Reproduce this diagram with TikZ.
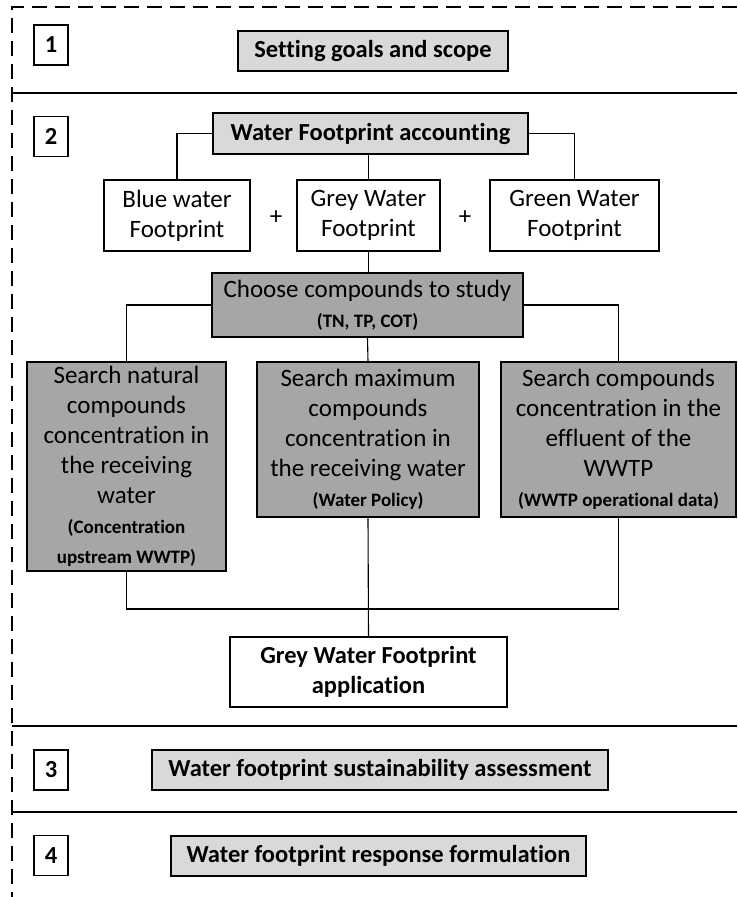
\documentclass[tikz,border=0pt]{standalone}
\usepackage{fontspec}
\setmainfont{Carlito}[Ligatures=NoCommon]
\usepackage{tikz}
\definecolor{lg}{RGB}{217, 217, 217}
\definecolor{dg}{RGB}{166, 166, 166}
\newcommand{\subnote}[1]{{\fontsize{19pt}{23pt}\selectfont\bfseries #1}}

\begin{document}
\begin{tikzpicture}[
box/.style={rectangle, draw=black, line width=1.2pt, inner sep=0pt, align=center, font=\fontsize{25pt}{30pt}\selectfont},
num/.style={box, minimum width=34pt, minimum height=40pt, font=\fontsize{24.5pt}{30pt}\selectfont\bfseries},
phase/.style={box, fill=lg, minimum height=40pt, font=\fontsize{24.5pt}{30pt}\selectfont\bfseries},
part/.style={box, fill=white, minimum height=71pt},
task/.style={box, fill=dg},
link/.style={line width=1.1pt, color=black}
]
\useasboundingbox (0pt, 0pt) rectangle (737pt, -897pt);
% frame and phase separators
\draw [line width=1.4pt, dash pattern=on 15pt off 8pt] (737pt, -7pt) -- (12pt, -7pt) -- (12pt, -897pt);
\draw [line width=1.4pt] (12pt, -93pt) -- (737pt, -93pt);
\draw [line width=1.4pt] (12pt, -726pt) -- (737pt, -726pt);
\draw [line width=1.4pt] (12pt, -812pt) -- (737pt, -812pt);
% phase 1
\node (n1) [num] at (51pt, -45pt) {1};
\node (goals) [phase, minimum width=270pt] at (373pt, -51pt) {Setting goals and scope};
% phase 2
\node (n2) [num] at (51pt, -136.5pt) {2};
\node (wfa) [phase, minimum width=315pt, minimum height=41pt] at (370.5pt, -133.5pt) {Water Footprint accounting};
\node (blue) [part, minimum width=146pt] at (177pt, -215.5pt) {Blue water\\Footprint};
\node (grey) [part, minimum width=143pt] at (368.5pt, -215.5pt) {Grey Water\\Footprint};
\node (green) [part, minimum width=169pt] at (574.5pt, -215.5pt) {Green Water\\Footprint};
\node (plus1) [font=\fontsize{25pt}{30pt}\selectfont] at (276pt, -218pt) {+};
\node (plus2) [font=\fontsize{25pt}{30pt}\selectfont] at (465pt, -218pt) {+};
\node (choose) [task, minimum width=311pt, minimum height=64pt] at (367.5pt, -305pt) {Choose compounds to study\\\subnote{(TN, TP, COT)}};
\node (natural) [task, minimum width=199pt, minimum height=209pt] at (126.5pt, -466.5pt) {Search natural\\compounds\\concentration in\\the receiving\\water\\\subnote{(Concentration}\\\subnote{upstream WWTP)}};
\node (maximum) [task, minimum width=222pt, minimum height=155pt] at (368pt, -439.5pt) {Search maximum\\compounds\\concentration in\\the receiving water\\\subnote{(Water Policy)}};
\node (effluent) [task, minimum width=235pt, minimum height=155pt] at (618.5pt, -439.5pt) {Search compounds\\concentration in the\\effluent of the\\WWTP\\\subnote{(WWTP operational data)}};
\coordinate (join) at (368pt, -609pt);
\node (app) [box, fill=white, minimum width=277pt, minimum height=70pt, font=\fontsize{24.5pt}{30pt}\selectfont\bfseries] at (368.5pt, -672pt) {Grey Water Footprint\\application};
\draw [link] (wfa.west) -| (blue.north);
\draw [link] (wfa.east) -| (green.north);
\draw [link] (grey.north) -- (grey.north |- wfa.south);
\draw [link] (grey.south) -- (grey.south |- choose.north);
\draw [link] (choose.west) -| (natural.north);
\draw [link] (choose.east) -| (effluent.north);
\draw [link] (choose.south) -- (maximum.north);
\draw [link] (natural.south) |- (join) -| (effluent.south);
\draw [link] (maximum.south) -- (app.north);
% phase 3
\node (n3) [num] at (51pt, -770pt) {3};
\node (wfsa) [phase, minimum width=456pt] at (380pt, -770pt) {Water footprint sustainability assessment};
% phase 4
\node (n4) [num] at (51pt, -855.5pt) {4};
\node (wfrf) [phase, minimum width=415pt] at (378.5pt, -856pt) {Water footprint response formulation};
\end{tikzpicture}
\end{document}
